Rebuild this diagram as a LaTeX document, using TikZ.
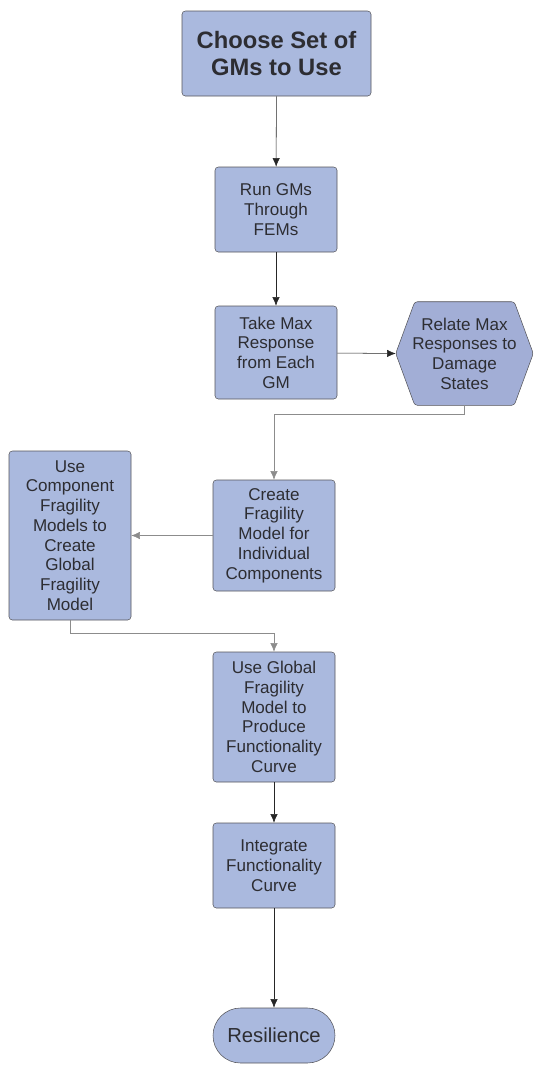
\documentclass[tikz,border=0pt]{standalone}
\usepackage{fontspec}
\setmainfont{Liberation Sans}
\usetikzlibrary{arrows.meta}
\definecolor{boxfill}{RGB}{170,185,222}
\definecolor{hexfill}{RGB}{162,174,214}
\definecolor{boxline}{RGB}{85,85,90}
\definecolor{boxtext}{RGB}{45,45,50}
\tikzset{
  box/.style={draw=boxline,fill=boxfill,rounded corners=2.5pt,text=boxtext,align=center,
    font=\fontsize{12.8}{14.8}\selectfont,inner sep=1pt},
  conn/.style={draw=black!85,-{Latex[length=6.5pt,width=5.5pt]}},
  lightconn/.style={draw=black!45,-{Latex[length=6.5pt,width=5.5pt]}}
}
\begin{document}
\begin{tikzpicture}[x=0.75pt,y=-0.75pt]
                \useasboundingbox (0,0) rectangle (533,1065);
                \node[box,minimum width=141.75pt,minimum height=63.75pt,font=\fontsize{17.8}{20.3}\selectfont\bfseries] (choose) at (276.5,53.5) {Choose Set of\\GMs to Use};
                \node[box,minimum width=91.5pt,minimum height=63.75pt] (run) at (276,209.5) {Run GMs\\Through\\FEMs};
                \node[box,minimum width=91.5pt,minimum height=69.75pt] (take) at (276,352.5) {Take Max\\Response\\from Each\\GM};
                \node[minimum width=102.75pt,minimum height=77.25pt,inner sep=0pt] (relate) at (464.5,353.5) {};
                \draw[draw=boxline,fill=hexfill,rounded corners=2pt]
                    ([xshift=14.25pt]relate.north west) -- ([xshift=-14.25pt]relate.north east) -- (relate.east)
                    -- ([xshift=-14.25pt]relate.south east) -- ([xshift=14.25pt]relate.south west) -- (relate.west) -- cycle;
                \node[text=boxtext,align=center,font=\fontsize{12.8}{14.8}\selectfont] at (relate) {Relate Max\\Responses to\\Damage\\States};
                \node[box,minimum width=91.5pt,minimum height=83.25pt] (create) at (274,535.5) {Create\\Fragility\\Model for\\Individual\\Components};
                \node[box,minimum width=91.5pt,minimum height=126.75pt] (usecomp) at (70,535.5) {Use\\Component\\Fragility\\Models to\\Create\\Global\\Fragility\\Model};
                \node[box,minimum width=91.5pt,minimum height=97.5pt] (useglobal) at (274,717) {Use Global\\Fragility\\Model to\\Produce\\Functionality\\Curve};
                \node[box,minimum width=91.5pt,minimum height=63.75pt] (integrate) at (274,865.5) {Integrate\\Functionality\\Curve};
                \node[box,minimum width=91.5pt,minimum height=41.25pt,rounded corners=20.6pt,font=\fontsize{15.2}{18}\selectfont] (resil) at (274,1035.5) {Resilience};
                \draw[conn] (choose) -- (run);
                \draw[conn] (run) -- (take);
                \draw[conn] (take) -- (relate.west);
                \draw[lightconn] (relate.south) -- ++(0,9) -| (create.north);
                \draw[lightconn] (create) -- (usecomp);
                \draw[lightconn] (usecomp.south) -- ++(0,13) -| (useglobal.north);
                \draw[conn] (useglobal) -- (integrate);
                \draw[conn] (integrate) -- (resil);
            \end{tikzpicture}
\end{document}
